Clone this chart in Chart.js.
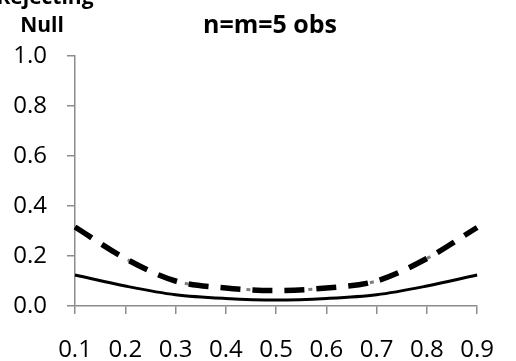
<!DOCTYPE html>
<html>
<head>
<meta charset="utf-8">
<script src="https://cdn.jsdelivr.net/npm/chart.js@4.4.1/dist/chart.umd.min.js"></script>
<style>
    html, body { margin: 0; padding: 0; background: #fff; }
    canvas { display: block; }
</style>
</head>
<body>
<canvas id="powerChart" width="516" height="361"></canvas>
<script>
// Share of p values on the x axis
const pLabels = ['0.1', '0.2', '0.3', '0.4', '0.5', '0.6', '0.7', '0.8', '0.9'];

// Rejection rates for each test
const solidRates = [0.124, 0.080, 0.045, 0.030, 0.024, 0.030, 0.045, 0.080, 0.124];
const dashedRates = [0.316, 0.190, 0.100, 0.072, 0.062, 0.072, 0.100, 0.190, 0.314];
const grayRates = [0.316, 0.190, 0.100, 0.072, 0.062, 0.072, 0.100, 0.190, 0.314];

const yTicks = [0, 0.2, 0.4, 0.6, 0.8, 1.0];

const axisGray = '#8c8c8c';
const fontFamily = '"Open Sans", "Liberation Sans", sans-serif';

// Title and axis caption drawn as plain text
const captionPlugin = {
    id: 'captions',
    afterDraw(chart) {
        const ctx = chart.ctx;
        ctx.save();
        ctx.fillStyle = '#000';
        ctx.textAlign = 'center';
        ctx.textBaseline = 'alphabetic';
        ctx.font = 'bold 25px ' + fontFamily;
        ctx.fillText('n=m=5 obs', 270, 33);
        ctx.font = 'bold 21px ' + fontFamily;
        ctx.fillText('Rejecting', 45, 4);
        ctx.fillText('Null', 42, 32);
        ctx.restore();
    }
};

function lineSet(label, data, color, width, dash) {
    return {
        label: label,
        data: data,
        borderColor: color,
        borderWidth: width,
        borderDash: dash,
        borderCapStyle: 'butt',
        pointRadius: 0,
        fill: false,
        tension: 0.4,
        cubicInterpolationMode: 'monotone'
    };
}

const ctx = document.getElementById('powerChart').getContext('2d');
const powerChart = new Chart(ctx, {
    type: 'line',
    data: {
        labels: pLabels,
        datasets: [
            lineSet('Test A', solidRates, '#000', 3, []),
            lineSet('Test B', dashedRates, '#000', 5.5, [20, 12]),
            lineSet('Test C', grayRates, '#808080', 3, [4, 58])
        ]
    },
    plugins: [captionPlugin],
    options: {
        responsive: false,
        animation: false,
        layout: { padding: { top: 56, right: 19, left: 0, bottom: 0 } },
        plugins: {
            legend: { display: false },
            title: { display: false },
            tooltip: { enabled: false }
        },
        scales: {
            x: {
                offset: false,
                grid: {
                    drawOnChartArea: false,
                    color: axisGray,
                    tickLength: 8,
                    lineWidth: 1.5
                },
                border: { color: axisGray, width: 1.5 },
                ticks: {
                    color: '#000',
                    font: { size: 24, family: fontFamily },
                    padding: 22,
                    maxRotation: 0,
                    autoSkip: false
                },
                afterFit(scale) { scale.height = 55; }
            },
            y: {
                min: 0,
                max: 1,
                afterBuildTicks(scale) {
                    scale.ticks = yTicks.map(v => ({ value: v }));
                },
                grid: {
                    drawOnChartArea: false,
                    color: axisGray,
                    tickLength: 8,
                    lineWidth: 1.5
                },
                border: { color: axisGray, width: 1.5 },
                ticks: {
                    color: '#000',
                    font: { size: 24, family: fontFamily },
                    padding: 20,
                    callback: v => v.toFixed(1)
                },
                afterFit(scale) { scale.width = 75; }
            }
        }
    }
});
</script>
</body>
</html>
